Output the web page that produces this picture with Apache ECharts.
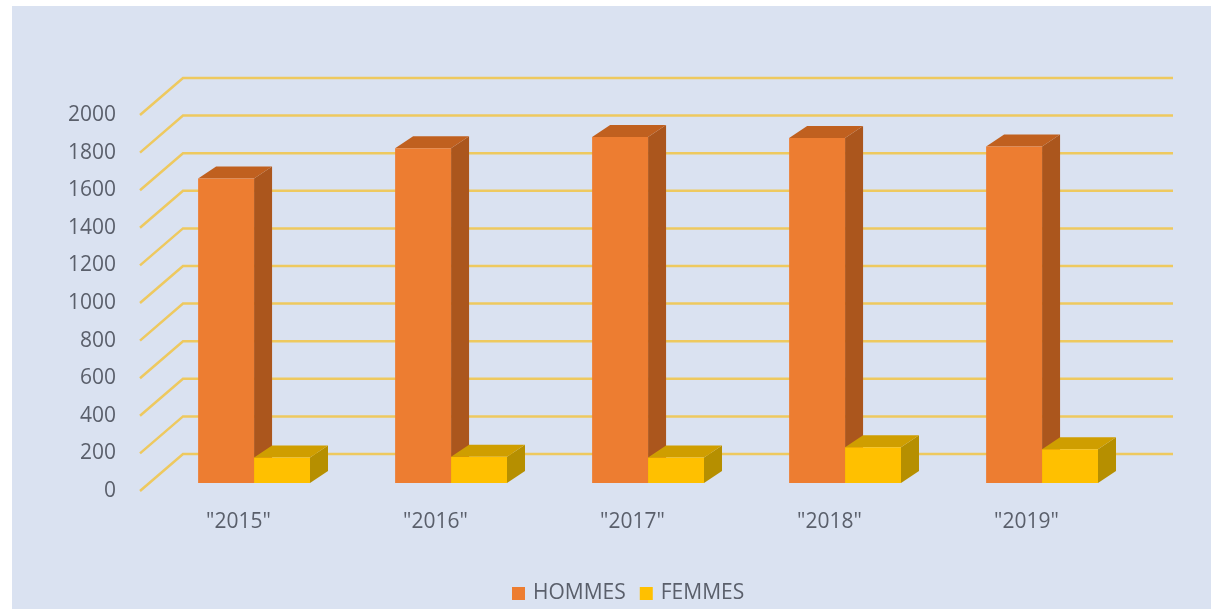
<!DOCTYPE html>
<html>
<head>
<meta charset="utf-8">
<script src="https://cdn.jsdelivr.net/npm/echarts@6/dist/echarts.min.js"></script>
<style>
  html, body { margin: 0; padding: 0; background: #ffffff; }
  #chart { width: 1211px; height: 609px; }
</style>
</head>
<body>
<div id="chart"></div>
<script>
// donnees
const annees = ['"2015"', '"2016"', '"2017"', '"2018"', '"2019"'];
const hommes = [1620, 1780, 1840, 1835, 1790];
const femmes = [135, 140, 135, 190, 180];
const graduations = [0, 200, 400, 600, 800, 1000, 1200, 1400, 1600, 1800, 2000];

const textColor = '#5a5f6b';
const font = 'Open Sans';

// decalage de profondeur du mur du fond
const murDx = 43, murDy = -37;

const renderMur = (params, api) => {
  const cs = params.coordSys;
  const p = api.coord([0, api.value(1)]);
  const left = cs.x, right = cs.x + cs.width;
  return {
    type: 'polyline',
    shape: { points: [[left, p[1]], [left + murDx, p[1] + murDy], [right + murDx + 5, p[1] + murDy]] },
    style: { stroke: '#eec95f', lineWidth: 2.5, fill: null }
  };
};

// barre 3D : face avant, face laterale et dessus
const renderBarre = (slot, c) => (params, api) => {
  const cat = api.value(0);
  const base = api.coord([cat, 0]);
  const top = api.coord([cat, api.value(1)]);
  const catW = api.size([1, 0])[0];
  const bw = catW * 0.284;
  const x0 = base[0] + catW * 0.079 - bw + slot * bw;
  const y0 = base[1] - 8;
  const y1 = top[1] - 8;
  const dx = 18, dy = -12;
  return {
    type: 'group',
    children: [
      { type: 'polygon', shape: { points: [[x0 + bw, y0], [x0 + bw, y1], [x0 + bw + dx, y1 + dy], [x0 + bw + dx, y0 + dy]] }, style: { fill: c.side } },
      { type: 'polygon', shape: { points: [[x0, y1], [x0 + bw, y1], [x0 + bw + dx, y1 + dy], [x0 + dx, y1 + dy]] }, style: { fill: c.top } },
      { type: 'rect', shape: { x: x0, y: y1, width: bw, height: y0 - y1 }, style: { fill: c.front } }
    ]
  };
};

const chart = echarts.init(document.getElementById('chart'));

const option = {
  backgroundColor: '#ffffff',
  animation: false,
  graphic: [
    { type: 'rect', z: -10, shape: { x: 12, y: 6, width: 1199, height: 603 }, style: { fill: '#dae2f1' } }
  ],
  grid: { left: 140, right: 86, top: 115, bottom: 118 },
  xAxis: {
    type: 'category',
    data: annees,
    axisLine: { show: false },
    axisTick: { show: false },
    axisLabel: { color: textColor, fontFamily: font, fontSize: 21, margin: 21 }
  },
  yAxis: {
    type: 'value',
    min: 0,
    max: 2000,
    interval: 200,
    splitLine: { show: false },
    axisLine: { show: false },
    axisTick: { show: false },
    axisLabel: { color: textColor, fontFamily: font, fontSize: 21, margin: 24, formatter: v => String(v) }
  },
  legend: {
    data: ['HOMMES', 'FEMMES'],
    left: 507,
    top: 578,
    icon: 'rect',
    itemWidth: 13,
    itemHeight: 13,
    itemGap: 14,
    textStyle: { color: textColor, fontFamily: font, fontSize: 21, padding: [0, 0, 0, 3] }
  },
  series: [
    {
      type: 'custom',
      name: 'mur',
      silent: true,
      z: 1,
      renderItem: renderMur,
      data: graduations.map(v => [0, v])
    },
    {
      type: 'custom',
      name: 'HOMMES',
      z: 2,
      itemStyle: { color: '#ed7d31' },
      renderItem: renderBarre(0, { front: '#ed7d31', side: '#ab561d', top: '#c0601f' }),
      data: hommes.map((v, i) => [i, v])
    },
    {
      type: 'custom',
      name: 'FEMMES',
      z: 3,
      itemStyle: { color: '#ffc000' },
      renderItem: renderBarre(1, { front: '#ffc000', side: '#b68f00', top: '#cf9e00' }),
      data: femmes.map((v, i) => [i, v])
    }
  ]
};

chart.setOption(option);
window.addEventListener('resize', () => chart.resize());
</script>
</body>
</html>
